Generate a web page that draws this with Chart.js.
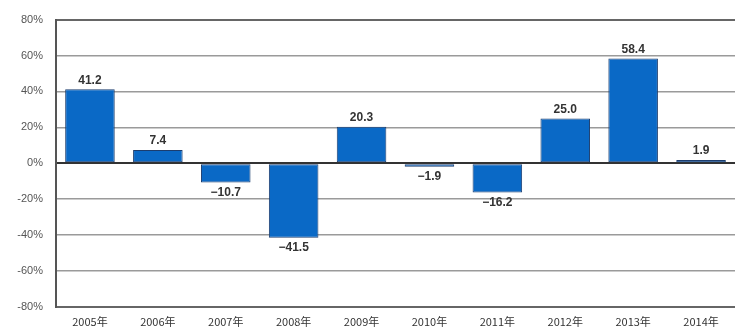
<!DOCTYPE html>
<html>
<head>
<meta charset="utf-8">
<script src="https://cdn.jsdelivr.net/npm/chart.js@4"></script>
<style>
  html, body { margin: 0; padding: 0; background: #fff; }
  #wrap { width: 736px; height: 331px; }
</style>
</head>
<body>
<div id="wrap"><canvas id="growthChart"></canvas></div>
<script>
const years = ['2005年', '2006年', '2007年', '2008年', '2009年', '2010年', '2011年', '2012年', '2013年', '2014年'];
const growth = [41.2, 7.4, -10.7, -41.5, 20.3, -1.9, -16.2, 25.0, 58.4, 1.9];
const yTicks = [-80, -60, -40, -20, 0, 20, 40, 60, 80];

// draw the value above / below each bar
const valueLabels = {
    id: 'valueLabels',
    afterDatasetsDraw(chart) {
        const ctx = chart.ctx;
        const meta = chart.getDatasetMeta(0);
        ctx.save();
        ctx.font = 'bold 12px "Liberation Sans", Arial, sans-serif';
        ctx.fillStyle = '#333';
        ctx.textAlign = 'center';
        meta.data.forEach((bar, i) => {
            const v = growth[i];
            const txt = (v < 0 ? '\u2212' : '') + Math.abs(v).toFixed(1);
            if (v >= 0) {
                ctx.textBaseline = 'bottom';
                ctx.fillText(txt, bar.x, bar.y - 3);
            } else {
                ctx.textBaseline = 'top';
                ctx.fillText(txt, bar.x, bar.y + 4);
            }
        });
        ctx.restore();
    }
};

new Chart(document.getElementById('growthChart').getContext('2d'), {
    type: 'bar',
    data: {
        labels: years,
        datasets: [{
            data: growth,
            backgroundColor: '#0a69c6',
            borderColor: '#1c3d6e',
            borderWidth: 1,
            borderSkipped: false,
            categoryPercentage: 1,
            barPercentage: 0.73
        }]
    },
    options: {
        responsive: true,
        maintainAspectRatio: false,
        animation: false,
        layout: { padding: { top: 16, right: 1, left: 0, bottom: 0 } },
        plugins: { legend: { display: false }, tooltip: { enabled: false } },
        scales: {
            x: {
                afterFit: s => { s.height = 24; },
                grid: { display: false, drawTicks: false },
                border: { display: false },
                ticks: {
                    padding: 8,
                    color: '#333',
                    font: { size: 11, family: '"Noto Sans CJK JP", "Liberation Sans", sans-serif' }
                }
            },
            y: {
                min: -80,
                max: 80,
                afterFit: s => { s.width = 56; },
                afterBuildTicks: s => { s.ticks = yTicks.map(v => ({ value: v })); },
                grid: {
                    drawTicks: false,
                    color: ctx => {
                        const v = ctx.tick.value;
                        if (v === 0) return '#333';
                        if (Math.abs(v) === 80) return '#666';
                        return '#9a9a9a';
                    },
                    lineWidth: ctx => (ctx.tick.value === 0 || Math.abs(ctx.tick.value) === 80) ? 2 : 1.5
                },
                border: { color: '#555', width: 2 },
                ticks: {
                    padding: 13,
                    color: '#555',
                    font: { size: 11, family: '"Liberation Sans", Arial, sans-serif' },
                    callback: v => v + '%'
                }
            }
        }
    },
    plugins: [valueLabels]
});
</script>
</body>
</html>
